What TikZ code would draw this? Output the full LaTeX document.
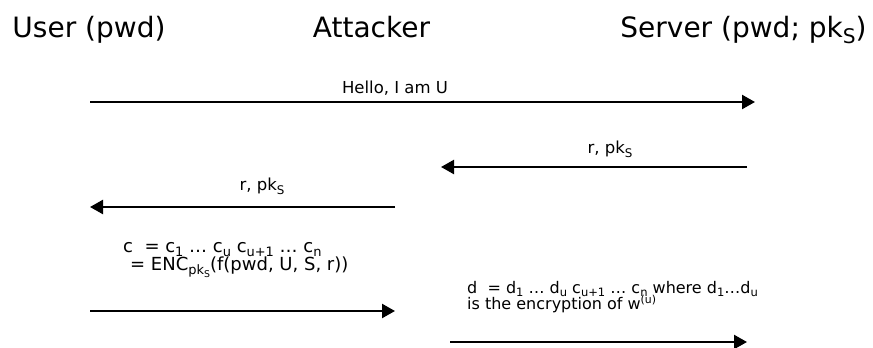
\documentclass[tikz,border=0pt]{standalone}
\usepackage{fontspec}
\setmainfont{DejaVu Sans}
\usetikzlibrary{arrows.meta}
% lowered and raised small indices
\newcommand{\lo}[1]{\raisebox{-0.45ex}{\scalebox{0.72}{#1}}}
\newcommand{\hi}[1]{\raisebox{0.6ex}{\scalebox{0.68}{#1}}}
\begin{document}
\begin{tikzpicture}[x=1pt,y=-1pt,
  party/.style={font=\fontsize{28}{32}\selectfont, inner sep=0pt, anchor=base},
  msg/.style={font=\fontsize{16.5}{18}\selectfont, inner sep=0pt, anchor=base},
  cnote/.style={font=\fontsize{18}{20}\selectfont, inner sep=0pt, anchor=base west},
  dnote/.style={font=\fontsize{16}{18}\selectfont, inner sep=0pt, anchor=base west},
  flow/.style={line width=2.3pt, -{Triangle[length=13pt,width=14pt]}}]
\useasboundingbox (0,0) rectangle (873,348);

% participants
\node[party] (user) at (89,37) {User (pwd)};
\node[party] (att) at (371.5,37) {Attacker};
\node[party] (srv) at (743.5,37) {Server (pwd; pk\lo{S})};

% message end points
\coordinate (m1a) at (90,102);  \coordinate (m1b) at (755,102);
\coordinate (m2a) at (747,167); \coordinate (m2b) at (441,167);
\coordinate (m3a) at (395,207); \coordinate (m3b) at (90,207);
\coordinate (m4a) at (90,311);  \coordinate (m4b) at (395,311);
\coordinate (m5a) at (450,342); \coordinate (m5b) at (747,342);

\draw[flow] (m1a) -- (m1b);
\draw[flow] (m2a) -- (m2b);
\draw[flow] (m3a) -- (m3b);
\draw[flow] (m4a) -- (m4b);
\draw[flow] (m5a) -- (m5b);

% message labels
\node[msg] (l1) at (395,93) {Hello, I am U};
\node[msg] (l2) at (610,153) {r, pk\lo{S}};
\node[msg] (l3) at (262,190) {r, pk\lo{S}};

% ciphertext sent by the user
\node[cnote] (c1) at (123,252) {c\ \ = c\lo{1} … c\lo{u} c\lo{u+1} … c\lo{n}};
\node[cnote] (c2) at (130,270) {= ENC\lo{pk\lo{S}}(f(pwd, U, S, r))};

% modified ciphertext forwarded by the attacker
\node[dnote] (d1) at (467,293) {d\ \ = d\lo{1} … d\lo{u} c\lo{u+1} … c\lo{n} where d\lo{1}…d\lo{u}};
\node[dnote] (d2) at (467,309) {is the encryption of w\hi{(u)}};
\end{tikzpicture}
\end{document}
